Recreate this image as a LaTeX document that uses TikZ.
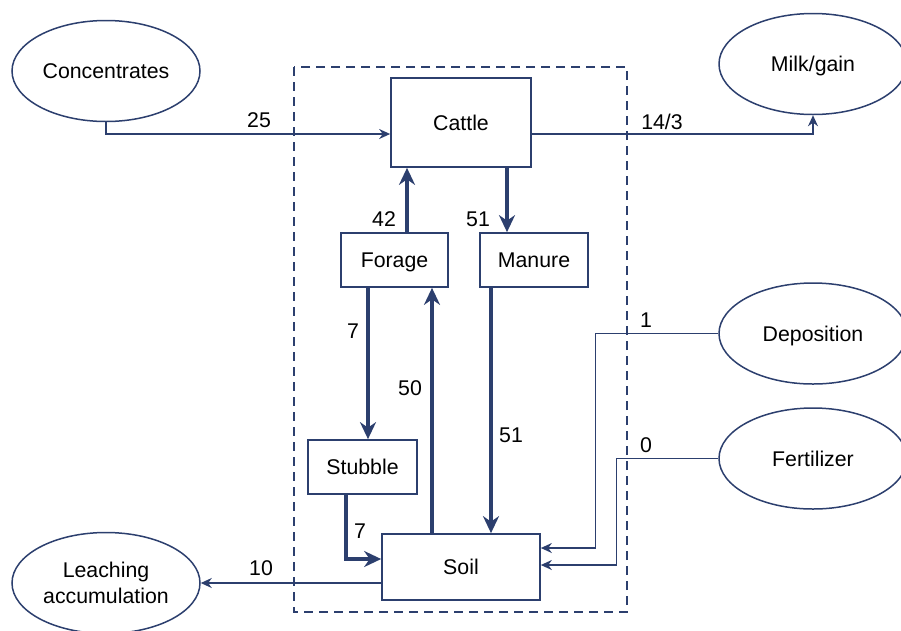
\documentclass[tikz,border=0pt]{standalone}
\usepackage{fontspec}
\setmainfont{Liberation Sans}
\usetikzlibrary{shapes.geometric,arrows.meta}
\definecolor{navy}{HTML}{2C3F6E}
\tikzset{
  every node/.style={font=\fontsize{21.3}{26}\selectfont, text=black},
  oval/.style={ellipse, draw=navy, line width=1.5pt, minimum width=188pt, minimum height=101pt, inner sep=0pt, align=center, fill=white},
  box/.style={rectangle, draw=navy, line width=1.7pt, inner sep=0pt, fill=white, text depth=0pt},
  thin/.style={draw=navy, line width=1.5pt, -{Stealth[length=11pt,width=10pt]}},
  thick/.style={draw=navy, line width=3.3pt, -{Stealth[length=17pt,width=16pt]}},
  lbl/.style={inner sep=0pt},
  frame/.style={draw=navy, line width=1.7pt, dash pattern=on 9pt off 6pt}
}
\begin{document}
\begin{tikzpicture}[x=1pt,y=-1pt]
\useasboundingbox (0,0) rectangle (901,630);
\draw[frame] (294,67) rectangle (627,612);

\node[oval, text depth=0pt] (conc) at (106,71) {Concentrates};
\node[oval, text depth=0pt] (milk) at (813,64) {Milk/gain};
\node[oval, text depth=0pt] (dep) at (813,333.5) {Deposition};
\node[oval, text depth=0pt] (fert) at (813,458.5) {Fertilizer};
\node[oval] (leach) at (106,583) {Leaching\\accumulation};

\node[box, minimum width=140pt, minimum height=89pt] (cattle) at (461,122.5) {Cattle};
\node[box, minimum width=107pt, minimum height=54pt] (forage) at (394.5,260) {Forage};
\node[box, minimum width=108pt, minimum height=54pt] (manure) at (534,260) {Manure};
\node[box, minimum width=109pt, minimum height=54pt] (stubble) at (362.5,467) {Stubble};
\node[box, minimum width=158pt, minimum height=66pt] (soil) at (461,567) {Soil};

% connectors
\draw[thin] (conc.south) |- ([yshift=-11.5pt]cattle.west);
\draw[thin] ([yshift=-11.5pt]cattle.east) -| (milk.south);

\coordinate (fc) at ([xshift=12.5pt]forage.north);
\draw[thick] (fc) -- (fc |- cattle.south);
\coordinate (cm) at ([xshift=-27pt]manure.north);
\draw[thick] (cm |- cattle.south) -- (cm);

\coordinate (fs) at ([xshift=-26.5pt]forage.south);
\draw[thick] (fs) -- (fs |- stubble.north);
\coordinate (sf) at ([xshift=-29pt]soil.north);
\draw[thick] (sf) -- (sf |- forage.south);
\coordinate (ms) at ([xshift=-43pt]manure.south);
\draw[thick] (ms) -- (ms |- soil.north);
\coordinate (ss) at ([xshift=-16.5pt]stubble.south);
\draw[thick] (ss) |- ([yshift=8pt]soil.west);

\draw[thin] ([yshift=-16pt]soil.west) -- (leach.east);
\draw[thin] (dep.west) -- ++(-123,0) |- ([yshift=19pt]soil.east);
\draw[thin] (fert.west) -- ++(-102,0) |- ([yshift=2pt]soil.east);

% labels
\node[lbl] (l25) at (259,120) {25};
\node[lbl] (l143) at (662,122) {14/3};
\node[lbl] (l42) at (384,219) {42};
\node[lbl] (l51a) at (478,219) {51};
\node[lbl] (l7a) at (353,331) {7};
\node[lbl] (l50) at (410,388) {50};
\node[lbl] (l51b) at (511,435) {51};
\node[lbl] (l7b) at (360,531) {7};
\node[lbl] (l10) at (261,568) {10};
\node[lbl] (l1) at (646,320) {1};
\node[lbl] (l0) at (646,445) {0};
\end{tikzpicture}
\end{document}
